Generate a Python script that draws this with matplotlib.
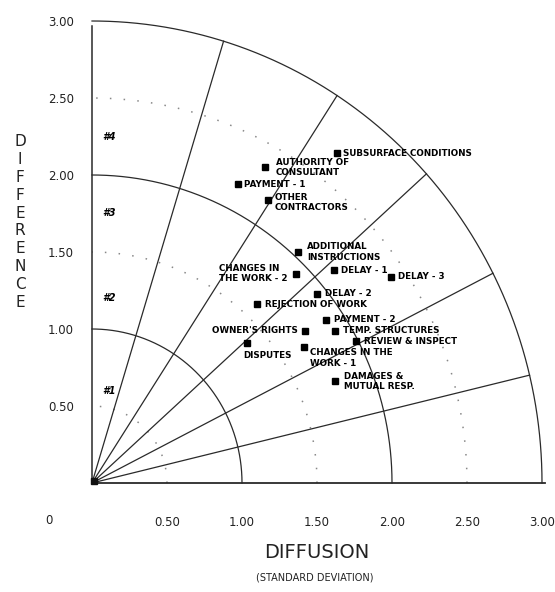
import numpy as np
import matplotlib.pyplot as plt

# items: (label, diffusion, difference)
names = ["SUBSURFACE CONDITIONS", "AUTHORITY OF\nCONSULTANT", "PAYMENT - 1",
         "OTHER\nCONTRACTORS", "ADDITIONAL\nINSTRUCTIONS", "CHANGES IN\nTHE WORK - 2",
         "DELAY - 1", "DELAY - 3", "DELAY - 2", "REJECTION OF WORK", "PAYMENT - 2",
         "OWNER'S RIGHTS", "TEMP. STRUCTURES", "REVIEW & INSPECT", "DISPUTES",
         "CHANGES IN THE\nWORK - 1", "DAMAGES &\nMUTUAL RESP."]
diffusion = [1.63, 1.15, 0.97, 1.17, 1.37, 1.36, 1.61, 1.99, 1.50, 1.10, 1.56,
             1.42, 1.62, 1.76, 1.03, 1.41, 1.62]
difference = [2.14, 2.05, 1.94, 1.84, 1.50, 1.36, 1.38, 1.34, 1.23, 1.16, 1.06,
              0.99, 0.99, 0.92, 0.91, 0.88, 0.66]

zone_names = ["#1", "#2", "#3", "#4"]
zone_y = [0.60, 1.20, 1.75, 2.25]

solid_r = [1, 2, 3]
dotted_r = [0.5, 1.5, 2.5]
ray_angles = [13.5, 27, 42, 57, 73]
ticks = [0.5, 1.0, 1.5, 2.0, 2.5, 3.0]
tick_labels = ["0.50", "1.00", "1.50", "2.00", "2.50", "3.00"]

# label placement (offset in points, horizontal alignment)
place = {
    "SUBSURFACE CONDITIONS": (5, 0, "left"),
    "AUTHORITY OF\nCONSULTANT": (8, 0, "left"),
    "PAYMENT - 1": (5, 0, "left"),
    "OTHER\nCONTRACTORS": (5, -2, "left"),
    "ADDITIONAL\nINSTRUCTIONS": (7, 0, "left"),
    "CHANGES IN\nTHE WORK - 2": (-6, 0, "right"),
    "OWNER'S RIGHTS": (-5, 0, "right"),
    "DISPUTES": (-2, -9, "left"),
    "CHANGES IN THE\nWORK - 1": (5, -7.5, "left"),
    "DAMAGES &\nMUTUAL RESP.": (6.5, 0, "left"),
}

fig = plt.figure(figsize=(5.55, 5.92), dpi=100)
ax = fig.add_axes([92 / 555, 109 / 592, 450 / 555, 462 / 592])
ax.set_xlim(0, 3)
ax.set_ylim(0, 3)
for s in ax.spines.values():
    s.set_visible(False)

line_col = "#2a2a2a"
t = np.linspace(0, np.pi / 2, 300)
for r in solid_r:
    ax.plot(r * np.cos(t), r * np.sin(t), color=line_col, lw=0.9, clip_on=False)
for r in dotted_r:
    ax.plot(r * np.cos(t), r * np.sin(t), color="#888888", lw=1.1,
            linestyle=(0, (1, 8)), clip_on=False)
for a in ray_angles:
    a = np.radians(a)
    ax.plot([0, 3 * np.cos(a)], [0, 3 * np.sin(a)], color=line_col, lw=0.9, clip_on=False)
ax.plot([0, 0], [0, 2.97], color=line_col, lw=1.1, clip_on=False)
ax.plot([0, 3.02], [0, 0], color=line_col, lw=1.3, clip_on=False)
ax.plot([0.01], [0.01], "s", color="#111111", ms=5, clip_on=False)

for name, x, y in zip(names, diffusion, difference):
    ax.plot(x, y, "s", color="black", ms=4.2)
    dx, dy, ha = place.get(name, (5.5, 0, "left"))
    ax.annotate(name, (x, y), xytext=(dx, dy), textcoords="offset points",
                ha=ha, va="center", ma="left", fontsize=6.3, fontweight="bold",
                linespacing=1.2)

for name, y in zip(zone_names, zone_y):
    ax.text(0.07, y, name, fontsize=7, fontweight="bold", style="italic",
            ha="left", va="center")

ax.set_xticks(ticks, tick_labels)
ax.set_yticks(ticks, tick_labels)
ax.tick_params(axis="x", length=0, pad=24, labelsize=8.5, labelcolor="#222222")
ax.tick_params(axis="y", length=0, pad=13, labelsize=8.5, labelcolor="#222222")
ax.annotate("0", (0, 0), xytext=(-31, -27), textcoords="offset points",
            ha="center", va="center", fontsize=8.5, color="#222222")

for i, ch in enumerate("DIFFERENCE"):
    fig.text(20 / 555, 1 - (142 + i * 17.8) / 592, ch, fontsize=11,
             ha="center", va="center", color="#222222")

fig.text(317 / 555, 1 - 552 / 592, "DIFFUSION", fontsize=14, ha="center",
         va="center", color="#222222")
fig.text(315 / 555, 1 - 578 / 592, "(STANDARD DEVIATION)", fontsize=7,
         ha="center", va="center", color="#222222")

fig.savefig("out.png", dpi=100)
